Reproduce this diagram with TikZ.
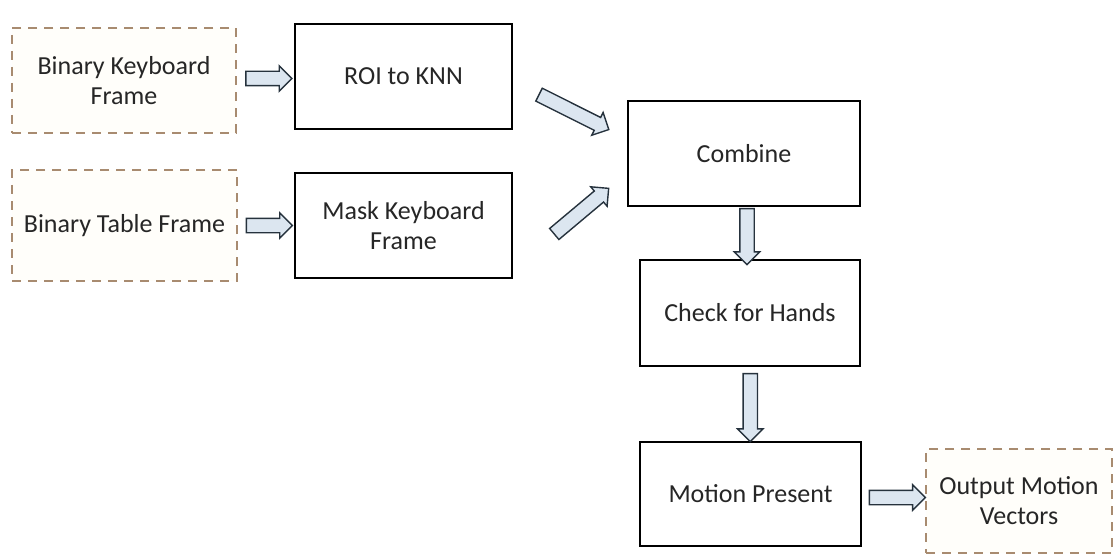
\documentclass[tikz,border=0pt]{standalone}
\usepackage{fontspec}
\setmainfont{Carlito}
\usetikzlibrary{shapes.arrows,calc}
\definecolor{arrfill}{HTML}{DCE6F0}
\definecolor{arrline}{HTML}{26323D}
\definecolor{dashc}{HTML}{A88B70}
\definecolor{cream}{HTML}{FFFEFA}
\tikzset{
  x=1pt,y=1pt,
  every node/.style={font=\fontsize{26}{30}\selectfont, align=center, text=black!85},
  procbox/.style={draw=black, line width=2.6pt, fill=white, inner sep=0pt},
  inbox/.style={draw=dashc, line width=1.8pt, dash pattern=on 9pt off 7pt, fill=cream, inner sep=0pt},
  fat/.style={single arrow, draw=arrline, line width=1.4pt, fill=arrfill, inner sep=0pt, inner ysep=6.5pt, single arrow head extend=5.5pt, text height=0pt, text depth=0pt},
}
\begin{document}
\begin{tikzpicture}
\useasboundingbox (0,0) rectangle (1118,-556);
% nodes (centres; pixel y negated)
\node[inbox, minimum width=224, minimum height=105] (kbf) at (124,-80.5) {Binary Keyboard\\Frame};
\node[inbox, minimum width=225, minimum height=111] (tbf) at (124.5,-225.5) {Binary Table Frame};
\node[procbox, minimum width=217, minimum height=105] (roi) at (403.5,-76.5) {ROI to KNN};
\node[procbox, minimum width=217, minimum height=105] (mask) at (403.5,-225.5) {Mask Keyboard\\Frame};
\node[procbox, minimum width=232, minimum height=105] (comb) at (744,-153.5) {Combine};
\node[procbox, minimum width=220, minimum height=106] (hands) at (750,-313) {Check for Hands};
\node[procbox, minimum width=221, minimum height=104] (motion) at (750.5,-494) {Motion Present};
\node[inbox, minimum width=186, minimum height=104] (out) at (1019,-501) {Output Motion\\Vectors};
% block-arrow connectors
\node[fat, minimum height=46] (a1) at ($(kbf.east)!0.5!(roi.west)$) {};
\node[fat, minimum height=46] (a2) at ($(tbf.east)!0.5!(mask.west)$) {};
\node[fat, minimum height=78, rotate=-26.6] (a3) at ($(comb.west)+(-56,43)$) {};
\node[fat, minimum height=71, rotate=40] (a4) at ($(comb.west)+(-48,-60)$) {};
\node[fat, minimum height=56, rotate=-90] (a5) at ($(comb.south)!0.5!(hands.north)$) {};
\node[fat, minimum height=68, rotate=-90] (a6) at ($(hands.south)!0.5!(motion.north)$) {};
\node[fat, minimum height=56] (a7) at ($(motion.east)!0.5!(out.west)$) {};
\end{tikzpicture}
\end{document}
